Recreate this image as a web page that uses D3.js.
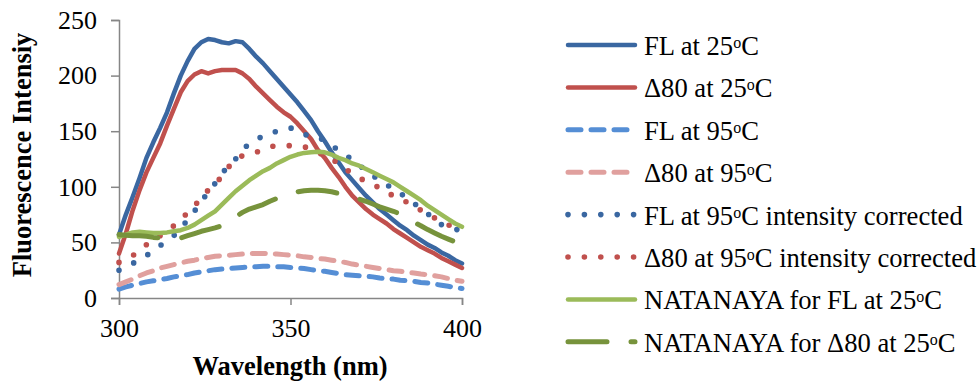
<!DOCTYPE html>
<html>
<head>
<meta charset="utf-8">
<script src="https://cdn.jsdelivr.net/npm/d3@7"></script>
<style>
html,body{margin:0;padding:0;background:#fff;}
svg{display:block;}
text{font-family:"Liberation Serif","Times New Roman",serif;fill:#000;}
</style>
</head>
<body>
<svg id="chart" width="977" height="381"></svg>
<script>
const wavelengths = [300,302,304,306,308,310,312,314,316,318,320,322,324,326,328,330,332,334,336,338,340,342,344,346,348,350,352,354,356,358,360,362,364,366,368,370,372,374,376,378,380,382,384,386,388,390,392,394,396,398,400];

const fl25 = [57,75,91,108,126,140,153,167,184,200,213,224,230,233,232,230,229,231,230,224,217,211,204,197,190,183,176,168,160,150,141,131,122,113,106,99,92,86,80,75,70,65,61,56,52,48,45,41,38,34,31];
const d80_25 = [40,58,79,97,113,126,139,155,170,185,195,201,204,202,204,205,205,205,202,197,190,184,178,172,167,163,157,150,143,133,126,117,109,100,92,86,80,75,71,67,62,58,54,50,46,43,40,36,33,30,27];
const fl95 = [8,10,11.5,13,14.5,15.5,16.5,17.5,19,20,21,22.5,23.5,24.5,25.5,26,26.5,27,27.5,28,28,28.5,28.5,28,28,27.5,27,26.5,25.5,24.5,24,23,22,21,20.5,20,19.5,19,18,17.5,17,16,15.5,15,14,13.5,12.5,11.5,10.5,9.5,8.5];
const d80_95 = [12,14.5,17,20,22.5,24.5,27,28.5,30,31.5,33,34,35.5,36.5,37.5,38,38.5,39,39.5,40,40,40,40,39.5,39,38.5,38,37,36.5,35.5,35,34,33,32,30.5,29.5,28.5,27.5,26.5,25.5,24.5,24,23,22.5,21.5,21,20,19,17.5,16,15];
const fl95corr = [25,28,31,35,38,43,47,52,56,63,70,78,87,95,103,112,119,125,133,139,142,146,148,150,152,153,150,147,146,145,141,137,133,129,124,120,114,110,106,102,98,94,90,85,81,76,70,66,63,62,60];
const d80_95corr = [32,35,38,43,48,52,56,60,65,70,77,83,90,97,103,109,118,124,128,130,131,134,136,137,137,137,137,136,134,131,128,125,121,116,112,108,105,102,99,95,92,89,86,82,79,76,72,69,66,61,60];
const natFL = [55,57,59,59.5,59,58.5,58.5,59,60,61,63,66,70,74,78,84,90,96,101,106,110,114,117,121,124,127,129,130.5,131,131.5,131,129,126,124,121,119,116,113,110,107,104,100,96,92,88,83,79,75,71,67,64];
const natD80 = [57,56.5,56,56,55.5,54.5,54,53.5,53.5,54,56,58,60,61.5,63,65,69,73,77,80,82,84,87,89.5,92,94,95.5,96.5,97,97,96.5,95.5,94,92.5,91,89,87,84.5,82,80,78,75.5,72,68,65,61.5,58.5,55.5,53,50.5,48];

const xTicks = [300,350,400];
const yTicks = [0,50,100,150,200,250];

const seriesNames = ["FL at 25|C","Δ80 at 25|C","FL at 95|C","Δ80 at 95|C","FL at 95|C intensity corrected","Δ80 at 95|C intensity corrected","NATANAYA for FL at 25|C","NATANAYA for Δ80 at 25|C"];
const seriesValues = [fl25,d80_25,fl95,d80_95,fl95corr,d80_95corr,natFL,natD80];
const seriesColors = ["#3A67A1","#C0504D","#558ED5","#E0A09E","#3A67A1","#C0504D","#9BBB59","#77933C"];
const seriesStyles = ["solid","solid","dash","dash","dot","dot","solid","longdash"];

const styleDefs = {
  solid:{dash:null,width:4.5},
  dash:{dash:"13,10",width:5},
  dot:{dash:"0,16.4",width:5.6},
  longdash:{dash:"39,24",width:5}
};

const svg = d3.select("#chart");
const x = d3.scaleLinear().domain([300,400]).range([119,462]);
const y = d3.scaleLinear().domain([0,250]).range([298,20]);
const axisColor = "#868686";

// Y axis
const yAxis = svg.append("g").attr("transform","translate(119,0)")
  .call(d3.axisLeft(y).tickValues(yTicks).tickSize(8).tickPadding(14));
yAxis.select(".domain").attr("stroke",axisColor).attr("stroke-width",1.5);
yAxis.selectAll(".tick line").attr("stroke",axisColor).attr("stroke-width",1.5);
yAxis.selectAll(".tick text").attr("font-size",26).attr("font-family","Liberation Serif").attr("fill","#000");

// X axis
const xAxis = svg.append("g").attr("transform","translate(0,298)")
  .call(d3.axisBottom(x).tickValues(xTicks).tickSize(7).tickPadding(14));
xAxis.select(".domain").attr("stroke",axisColor).attr("stroke-width",1.5);
xAxis.selectAll(".tick line").attr("stroke",axisColor).attr("stroke-width",1.5);
xAxis.selectAll(".tick text").attr("font-size",26).attr("font-family","Liberation Serif").attr("fill","#000");

// Axis titles
svg.append("text").attr("x",290).attr("y",375).attr("text-anchor","middle")
  .attr("font-size",26.5).attr("font-weight","bold").text("Wavelength (nm)");
svg.append("text").attr("transform","translate(31,155) rotate(-90)").attr("text-anchor","middle")
  .attr("font-size",26.5).attr("font-weight","bold").text("Fluorescence Intensiy");

// Lines
const line = d3.line().x((d,i)=>x(wavelengths[i])).y(d=>y(d)).curve(d3.curveLinear);
seriesValues.forEach((vals,k)=>{
  const st = styleDefs[seriesStyles[k]];
  const p = svg.append("path").datum(vals).attr("d",line)
    .attr("fill","none").attr("stroke",seriesColors[k]).attr("stroke-width",st.width)
    .attr("stroke-linecap","round").attr("stroke-linejoin","round");
  if (st.dash) p.attr("stroke-dasharray",st.dash);
});

// Legend
const legY0 = 45, legStep = 42.4;
seriesNames.forEach((name,k)=>{
  const st = styleDefs[seriesStyles[k]];
  const yy = legY0 + k*legStep;
  const l = svg.append("line").attr("x1",568).attr("x2",635).attr("y1",yy).attr("y2",yy)
    .attr("stroke",seriesColors[k]).attr("stroke-width",st.width).attr("stroke-linecap","round");
  if (st.dash) l.attr("stroke-dasharray",st.dash);
  const parts = name.split("|");
  const t = svg.append("text").attr("x",644).attr("y",yy+10).attr("font-size",26.6);
  t.append("tspan").text(parts[0]);
  t.append("tspan").attr("font-size",16).attr("dy",-7).text("o");
  t.append("tspan").attr("dy",7).text(parts[1]);
});
</script>
</body>
</html>
